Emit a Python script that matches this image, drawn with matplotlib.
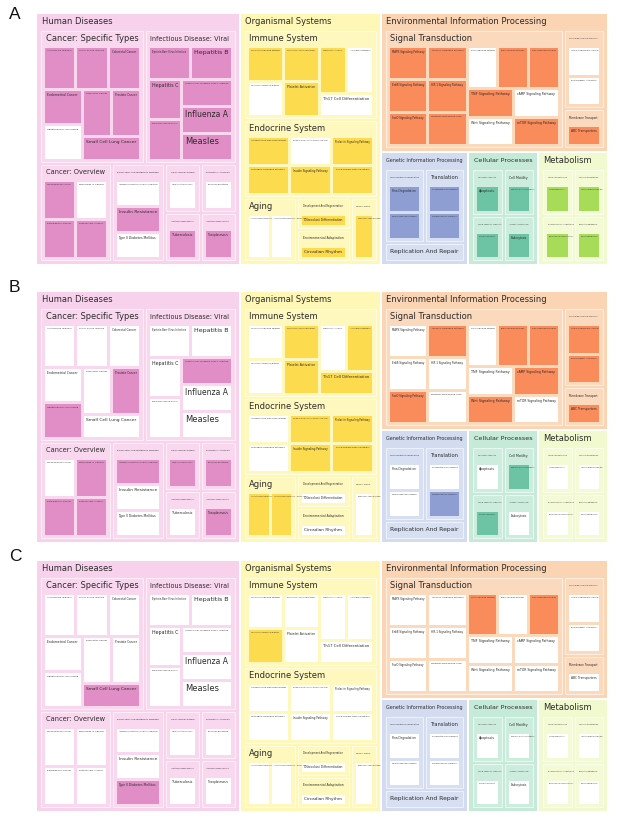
import matplotlib
matplotlib.use("Agg")
import matplotlib.pyplot as plt
from matplotlib.patches import Rectangle
from matplotlib.colors import to_rgb

# ---------------- DATA ----------------
CATEGORIES = ["Human Diseases", "Organismal Systems",
              "Environmental Information Processing",
              "Genetic Information Processing", "Cellular Processes", "Metabolism"]

SUBCATEGORIES = {
    "Human Diseases": ["Cancer: Specific Types", "Infectious Disease: Viral",
                       "Cancer: Overview", "Endocrine And Metabolic Disease",
                       "Cardiovascular Disease", "Drug Resistance: Antineoplastic",
                       "Infectious Disease: Bacterial", "Infectious Disease: Parasitic"],
    "Organismal Systems": ["Immune System", "Endocrine System", "Aging",
                           "Development And Regeneration", "Environmental Adaptation",
                           "Nervous System"],
    "Environmental Information Processing": ["Signal Transduction",
                                             "Signaling Molecules And Interaction",
                                             "Membrane Transport"],
    "Genetic Information Processing": ["Folding Sorting And Degradation", "Translation",
                                       "Replication And Repair"],
    "Cellular Processes": ["Cell Growth And Death", "Cell Motility",
                           "Cellular Community - Eukaryotes", "Transport And Catabolism"],
    "Metabolism": ["Amino Acid Metabolism", "Carbohydrate Metabolism",
                   "Glycan Biosynthesis And Metabolism", "Nucleotide Metabolism"],
}

PATHWAYS = {
    "Cancer: Specific Types": ["Acute Myeloid Leukemia", "Chronic Myeloid Leukemia",
                               "Colorectal Cancer", "Endometrial Cancer",
                               "Hepatocellular Carcinoma", "Pancreatic Cancer",
                               "Prostate Cancer", "Small Cell Lung Cancer"],
    "Infectious Disease: Viral": ["Epstein-Barr Virus Infection", "Hepatitis B", "Hepatitis C",
                                  "Human Papillomavirus Infection",
                                  "Human T-Cell Leukemia Virus 1 Infection",
                                  "Influenza A", "Measles"],
    "Cancer: Overview": ["Choline Metabolism In Cancer", "Micrornas In Cancer",
                         "Pathways In Cancer", "Proteoglycans In Cancer"],
    "Endocrine And Metabolic Disease": ["Age-Rage Signaling Pathway In Diabetic Complications",
                                        "Insulin Resistance", "Type II Diabetes Mellitus"],
    "Cardiovascular Disease": ["Lipid And Atherosclerosis"],
    "Drug Resistance: Antineoplastic": ["Endocrine Resistance"],
    "Infectious Disease: Bacterial": ["Tuberculosis"],
    "Infectious Disease: Parasitic": ["Toxoplasmosis"],
    "Immune System": ["Chemokine Signaling Pathway", "Fc Epsilon Ri Signaling Pathway",
                      "Hematopoietic Cell Lineage", "Il-17 Signaling Pathway",
                      "Leukocyte Transendothelial Migration", "Platelet Activation",
                      "Th17 Cell Differentiation"],
    "Endocrine System": ["Adipocytokine Signaling Pathway",
                         "Growth Hormone Synthesis Secretion And Action",
                         "Prolactin Signaling Pathway", "Glucagon Signaling Pathway",
                         "Insulin Signaling Pathway", "Thyroid Hormone Signaling Pathway"],
    "Aging": ["Longevity Regulating Pathway", "Longevity Regulating Pathway - Multiple Species"],
    "Development And Regeneration": ["Osteoclast Differentiation"],
    "Environmental Adaptation": ["Circadian Rhythm"],
    "Nervous System": ["Neurotrophin Signaling Pathway"],
    "Signal Transduction": ["MAPK Signaling Pathway", "JAK-STAT Signaling Pathway",
                            "ErbB Signaling Pathway", "HIF-1 Signaling Pathway",
                            "FoxO Signaling Pathway", "Phosphatidylinositol Signaling System",
                            "Notch Signaling Pathway", "Rap1 Signaling Pathway",
                            "Ras Signaling Pathway", "TNF Signaling Pathway",
                            "cAMP Signaling Pathway", "Wnt Signaling Pathway",
                            "mTOR Signaling Pathway"],
    "Signaling Molecules And Interaction": ["Cytokine-Cytokine Receptor Interaction",
                                            "Ecm-Receptor Interaction"],
    "Membrane Transport": ["ABC Transporters"],
    "Folding Sorting And Degradation": ["Rna Degradation", "Ubiquitin Mediated Proteolysis"],
    "Translation": ["Nucleocytoplasmic Transport", "Ribosome Biogenesis In Eukaryotes"],
    "Replication And Repair": ["Mismatch Repair"],
    "Cell Growth And Death": ["Apoptosis"],
    "Cell Motility": ["Regulation Of Actin Cytoskeleton"],
    "Cellular Community - Eukaryotes": ["Focal Adhesion"],
    "Transport And Catabolism": ["Endocytosis"],
    "Amino Acid Metabolism": ["Lysine Degradation"],
    "Carbohydrate Metabolism": ["Inositol Phosphate Metabolism"],
    "Glycan Biosynthesis And Metabolism": ["Mucin Type O-Glycan Biosynthesis"],
    "Nucleotide Metabolism": ["Purine Metabolism"],
}

# size value of every pathway tile (all tiles are of equal size)
PATHWAY_VALUES = {k: [1] * len(v) for k, v in PATHWAYS.items()}

HIGHLIGHT_A = ["Acute Myeloid Leukemia", "Chronic Myeloid Leukemia", "Colorectal Cancer",
               "Endometrial Cancer", "Pancreatic Cancer", "Prostate Cancer",
               "Small Cell Lung Cancer", "Epstein-Barr Virus Infection", "Hepatitis B",
               "Hepatitis C", "Human Papillomavirus Infection",
               "Human T-Cell Leukemia Virus 1 Infection", "Influenza A", "Measles",
               "Choline Metabolism In Cancer", "Pathways In Cancer", "Proteoglycans In Cancer",
               "Insulin Resistance", "Tuberculosis", "Toxoplasmosis",
               "Chemokine Signaling Pathway", "Fc Epsilon Ri Signaling Pathway",
               "Hematopoietic Cell Lineage", "Platelet Activation",
               "Adipocytokine Signaling Pathway", "Prolactin Signaling Pathway",
               "Glucagon Signaling Pathway", "Insulin Signaling Pathway",
               "Thyroid Hormone Signaling Pathway", "Osteoclast Differentiation",
               "Circadian Rhythm", "Neurotrophin Signaling Pathway",
               "MAPK Signaling Pathway", "JAK-STAT Signaling Pathway", "Rap1 Signaling Pathway",
               "Ras Signaling Pathway", "ErbB Signaling Pathway", "HIF-1 Signaling Pathway",
               "TNF Signaling Pathway", "FoxO Signaling Pathway",
               "Phosphatidylinositol Signaling System", "mTOR Signaling Pathway",
               "ABC Transporters", "Rna Degradation", "Ubiquitin Mediated Proteolysis",
               "Nucleocytoplasmic Transport", "Ribosome Biogenesis In Eukaryotes",
               "Apoptosis", "Regulation Of Actin Cytoskeleton", "Focal Adhesion", "Endocytosis",
               "Lysine Degradation", "Inositol Phosphate Metabolism",
               "Mucin Type O-Glycan Biosynthesis", "Purine Metabolism"]
HIGHLIGHT_B = ["Hepatocellular Carcinoma", "Prostate Cancer",
               "Human T-Cell Leukemia Virus 1 Infection", "Micrornas In Cancer",
               "Pathways In Cancer", "Proteoglycans In Cancer",
               "Age-Rage Signaling Pathway In Diabetic Complications",
               "Lipid And Atherosclerosis", "Endocrine Resistance", "Toxoplasmosis",
               "Fc Epsilon Ri Signaling Pathway", "Il-17 Signaling Pathway",
               "Platelet Activation", "Th17 Cell Differentiation",
               "Growth Hormone Synthesis Secretion And Action", "Prolactin Signaling Pathway",
               "Insulin Signaling Pathway", "Thyroid Hormone Signaling Pathway",
               "Longevity Regulating Pathway", "Longevity Regulating Pathway - Multiple Species",
               "JAK-STAT Signaling Pathway", "Rap1 Signaling Pathway", "Ras Signaling Pathway",
               "cAMP Signaling Pathway", "FoxO Signaling Pathway", "Wnt Signaling Pathway",
               "Cytokine-Cytokine Receptor Interaction", "Ecm-Receptor Interaction",
               "ABC Transporters", "Ribosome Biogenesis In Eukaryotes",
               "Regulation Of Actin Cytoskeleton", "Focal Adhesion"]
HIGHLIGHT_C = ["Small Cell Lung Cancer", "Type II Diabetes Mellitus",
               "Leukocyte Transendothelial Migration",
               "Notch Signaling Pathway", "Ras Signaling Pathway"]

PANEL_LABELS = ["A", "B", "C"]
PANEL_HIGHLIGHTS = [HIGHLIGHT_A, HIGHLIGHT_B, HIGHLIGHT_C]

# ---------------- LAYOUT STRUCTURE (nesting of rows/columns, indices) -------------
CAT_LAYOUT = ("H", [0, 1, ("V", [2, ("H", [3, 4, 5])])])
SUB_LAYOUT = {
    "Human Diseases": ("V", [("H", [0, 1]), ("H", [2, 3, ("V", [("H", [4, 5]), ("H", [6, 7])])])]),
    "Organismal Systems": ("V", [0, 1, ("H", [2, ("V", [3, 4]), 5])]),
    "Environmental Information Processing": ("H", [0, ("V", [1, 2])]),
    "Genetic Information Processing": ("V", [("H", [0, 1]), 2]),
    "Cellular Processes": ("V", [("H", [0, 1]), ("H", [2, 3])]),
    "Metabolism": ("V", [("H", [0, 1]), ("H", [2, 3])]),
}
LEAF_LAYOUT = {
    "Cancer: Specific Types": ("V", [("H", [0, 1, 2]), ("H", [("V", [3, 4]), ("V", [("H", [5, 6]), 7])])]),
    "Infectious Disease: Viral": ("V", [("H", [0, 1]), ("H", [("V", [2, 3]), ("V", [4, 5, 6])])]),
    "Cancer: Overview": ("V", [("H", [0, 1]), ("H", [2, 3])]),
    "Endocrine And Metabolic Disease": ("V", [0, 1, 2]),
    "Immune System": ("H", [("V", [0, 4]), ("V", [1, 5]), ("V", [("H", [2, 3]), 6])]),
    "Endocrine System": ("V", [("H", [0, 1, 2]), ("H", [3, 4, 5])]),
    "Aging": ("H", [0, 1]),
    "Signal Transduction": ("H", [("V", [("H", [0, 1]), ("H", [2, 3]), ("H", [4, 5])]),
                                  ("V", [("H", [6, 7, 8]), ("H", [9, 10]), ("H", [11, 12])])]),
    "Signaling Molecules And Interaction": ("V", [0, 1]),
    "Folding Sorting And Degradation": ("V", [0, 1]),
    "Translation": ("V", [0, 1]),
}

# ---------------- STYLE ----------------
BG = {"Human Diseases": "#F8D2EC", "Organismal Systems": "#FEF7B6",
      "Environmental Information Processing": "#FBD4B4",
      "Genetic Information Processing": "#D2DBF0", "Cellular Processes": "#C5EAD8",
      "Metabolism": "#F1F9CF"}
LEAF = {"Human Diseases": "#E28EC6", "Organismal Systems": "#FDDB4E",
        "Environmental Information Processing": "#FA8B5B",
        "Genetic Information Processing": "#8E9ED3", "Cellular Processes": "#6DC4A4",
        "Metabolism": "#A7DC58"}
TXT = "#2b2b2b"
MAXFS = 6.0
PTOP, PAD, G0, G1, G2 = 17, 4, 2, 3, 3


def mix(c, f):
    r = to_rgb(c)
    return tuple(v + (1 - v) * f for v in r)


fig = plt.figure(figsize=(6.17, 8.17), dpi=100)
ax = fig.add_axes([0, 0, 1, 1])
ax.set_xlim(0, 617)
ax.set_ylim(817, 0)
ax.axis("off")
renderer = fig.canvas.get_renderer()


def weight(spec, vals):
    if isinstance(spec, int):
        return vals[spec]
    return sum(weight(s, vals) for s in spec[1])


def split(spec, rect, vals, out, g):
    x0, y0, x1, y1 = rect
    if isinstance(spec, int):
        out[spec] = (x0 + g / 2, y0 + g / 2, x1 - g / 2, y1 - g / 2)
        return
    d, items = spec
    ws = [weight(s, vals) for s in items]
    tot = float(sum(ws))
    pos = x0 if d == "H" else y0
    span = (x1 - x0) if d == "H" else (y1 - y0)
    for s, w in zip(items, ws):
        step = span * w / tot
        sub = (pos, y0, pos + step, y1) if d == "H" else (x0, pos, x1, pos + step)
        split(s, sub, vals, out, g)
        pos += step


def expand(r, g):
    return (r[0] - g / 2, r[1] - g / 2, r[2] + g / 2, r[3] + g / 2)


def fit_text(x, y, s, avail, va):
    if avail <= 2:
        return
    t = ax.text(x, y, s, fontsize=MAXFS, va=va, ha="left", color=TXT,
                family="DejaVu Sans", clip_on=False)
    w = t.get_window_extent(renderer).width
    if w > avail:
        t.set_fontsize(MAXFS * avail / w)


def box(r, fc, ec="none", lw=0):
    ax.add_patch(Rectangle((r[0], r[1]), r[2] - r[0], r[3] - r[1], facecolor=fc,
                           edgecolor=ec, linewidth=lw))


def sub_value(sub):
    return sum(PATHWAY_VALUES[sub])


def cat_value(cat):
    return sum(sub_value(s) for s in SUBCATEGORIES[cat])


PANEL_TOPS = [14, 292, 561]
LABEL_BASE = [19, 292, 561]
for label, top, base, hl in zip(PANEL_LABELS, PANEL_TOPS, LABEL_BASE, PANEL_HIGHLIGHTS):
    ax.text(9, base, label, fontsize=12.5, family="Liberation Sans",
            va="baseline", ha="left", color="#111111")
    area = (37, top, 607, top + 250)
    cat_rects = {}
    split(CAT_LAYOUT, expand(area, G0), [cat_value(c) for c in CATEGORIES], cat_rects, G0)
    for ci, cat in enumerate(CATEGORIES):
        r = cat_rects[ci]
        box(r, BG[cat])
        fit_text(r[0] + 4.5, r[1] + 7.8, cat, r[2] - r[0] - 9, "center")
        content = (r[0] + PAD, r[1] + PTOP, r[2] - PAD, r[3] - PAD)
        subs = SUBCATEGORIES[cat]
        sub_rects = {}
        split(SUB_LAYOUT[cat], expand(content, G1), [sub_value(s) for s in subs], sub_rects, G1)
        for si, sub in enumerate(subs):
            rs = sub_rects[si]
            box(rs, mix(BG[cat], 0.12), mix(BG[cat], 0.6), 0.8)
            fit_text(rs[0] + 4.5, rs[1] + 7.5, sub, rs[2] - rs[0] - 9, "center")
            c2 = (rs[0] + PAD, rs[1] + PTOP, rs[2] - PAD, rs[3] - 3)
            if c2[3] - c2[1] <= 1 or c2[2] - c2[0] <= 1:
                continue
            leaf_rects = {}
            names = PATHWAYS[sub]
            split(LEAF_LAYOUT.get(sub, 0), expand(c2, G2), PATHWAY_VALUES[sub], leaf_rects, G2)
            for li, name in enumerate(names):
                rl = leaf_rects[li]
                box(rl, LEAF[cat] if name in hl else "white")
                fit_text(rl[0] + 2, rl[1] + 2, name, rl[2] - rl[0] - 4, "top")

fig.savefig("out.png", dpi=100, facecolor="white")
